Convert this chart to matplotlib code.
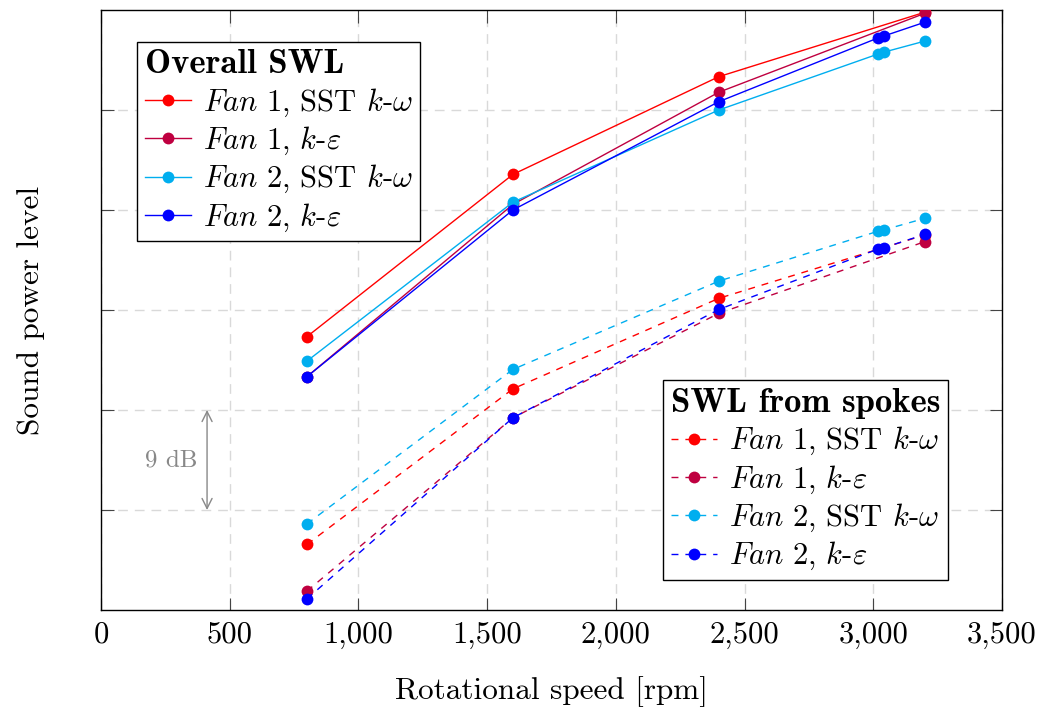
import matplotlib
matplotlib.use('Agg')
import matplotlib.pyplot as plt
from matplotlib.lines import Line2D
from matplotlib.ticker import FuncFormatter

plt.rcParams['font.family'] = 'cmr10'
plt.rcParams['mathtext.fontset'] = 'cm'
plt.rcParams['axes.unicode_minus'] = False

# ---- data (rotational speed in rpm, sound power level in dB, relative) ----
speeds_f1 = [800, 1600, 2400, 3200]
speeds_f2 = [800, 1600, 2400, 3020, 3040, 3200]

f1_sst_overall = [24.6, 39.2, 48.0, 53.8]
f1_ke_overall = [21.0, 36.5, 46.6, 53.7]
f2_sst_overall = [22.4, 36.7, 45.0, 50.05, 50.2, 51.2]
f2_ke_overall = [21.0, 36.0, 45.75, 51.5, 51.65, 52.9]

f1_sst_spokes = [5.9, 19.9, 28.05, 33.75]
f1_ke_spokes = [1.7, 17.3, 26.7, 33.15]
f2_sst_spokes = [7.75, 21.65, 29.6, 34.1, 34.2, 35.25]
f2_ke_spokes = [1.0, 17.3, 27.05, 32.5, 32.6, 33.8]

labels = [r'$\mathit{Fan\ 1}$, SST $k$-$\omega$',
          r'$\mathit{Fan\ 1}$, $k$-$\varepsilon$',
          r'$\mathit{Fan\ 2}$, SST $k$-$\omega$',
          r'$\mathit{Fan\ 2}$, $k$-$\varepsilon$']
colors = ['#FF0000', '#BF0040', '#00AEEF', '#0000FF']
xticks = [0, 500, 1000, 1500, 2000, 2500, 3000, 3500]
yticks = [9, 18, 27, 36, 45]

fig = plt.figure(figsize=(10.41, 7.09), dpi=100)
ax = fig.add_axes([101/1041, 99/709, 901/1041, 600/709])

overall = [(speeds_f1, f1_sst_overall), (speeds_f1, f1_ke_overall),
           (speeds_f2, f2_sst_overall), (speeds_f2, f2_ke_overall)]
spokes = [(speeds_f1, f1_sst_spokes), (speeds_f1, f1_ke_spokes),
          (speeds_f2, f2_sst_spokes), (speeds_f2, f2_ke_spokes)]

h1 = []
for (x, y), c, lab in zip(overall, colors, labels):
    l, = ax.plot(x, y, '-', color=c, lw=1.0, marker='o', ms=8.5, mew=0, label=lab, zorder=3)
    h1.append(l)
h2 = []
for (x, y), c, lab in zip(spokes, colors, labels):
    l, = ax.plot(x, y, color=c, lw=1.0, marker='o', ms=8.5, mew=0, label=lab,
                 linestyle=(0, (5, 5)), zorder=3)
    h2.append(l)

ax.set_xlim(0, 3500)
ax.set_ylim(0, 54)
ax.set_xticks(xticks)
ax.set_yticks(yticks)
ax.set_yticklabels([])
ax.xaxis.set_major_formatter(FuncFormatter(lambda v, p: '{:,.0f}'.format(v)))
ax.tick_params(direction='in', length=9, width=0.8, color='#444444',
               top=True, right=True, labelsize=22, pad=8)
ax.grid(True, color='#d9d9d9', linestyle=(0, (7, 5)), lw=1.0)
for s in ax.spines.values():
    s.set_linewidth(1.0)

ax.set_xlabel('Rotational speed [rpm]', fontsize=22.5, labelpad=20)
ax.set_ylabel('Sound power level', fontsize=22.5, labelpad=32)

common = dict(fontsize=22, frameon=True, fancybox=False, framealpha=1,
              edgecolor='black', handlelength=1.5, handletextpad=0.4,
              labelspacing=0.2, borderpad=0.25, borderaxespad=0, alignment='left',
              title_fontproperties={'family': 'cmb10', 'size': 25})
leg1 = ax.legend(handles=h1, loc='upper left', bbox_to_anchor=(0.040, 0.947),
                 title='Overall SWL', **common)
leg1.get_frame().set_linewidth(1.0)
ax.add_artist(leg1)
leg2 = ax.legend(handles=h2, loc='lower right', bbox_to_anchor=(0.940, 0.05),
                 title='SWL from spokes', **common)
leg2.get_frame().set_linewidth(1.0)

ax.annotate('', xy=(412, 18), xytext=(412, 9),
            arrowprops=dict(arrowstyle='<->', color='#888888', lw=1.0,
                            shrinkA=0, shrinkB=0, mutation_scale=18))
ax.text(373, 13.5, '9 dB', ha='right', va='center', color='#888888', fontsize=18)

fig.savefig('out.png', dpi=100)
